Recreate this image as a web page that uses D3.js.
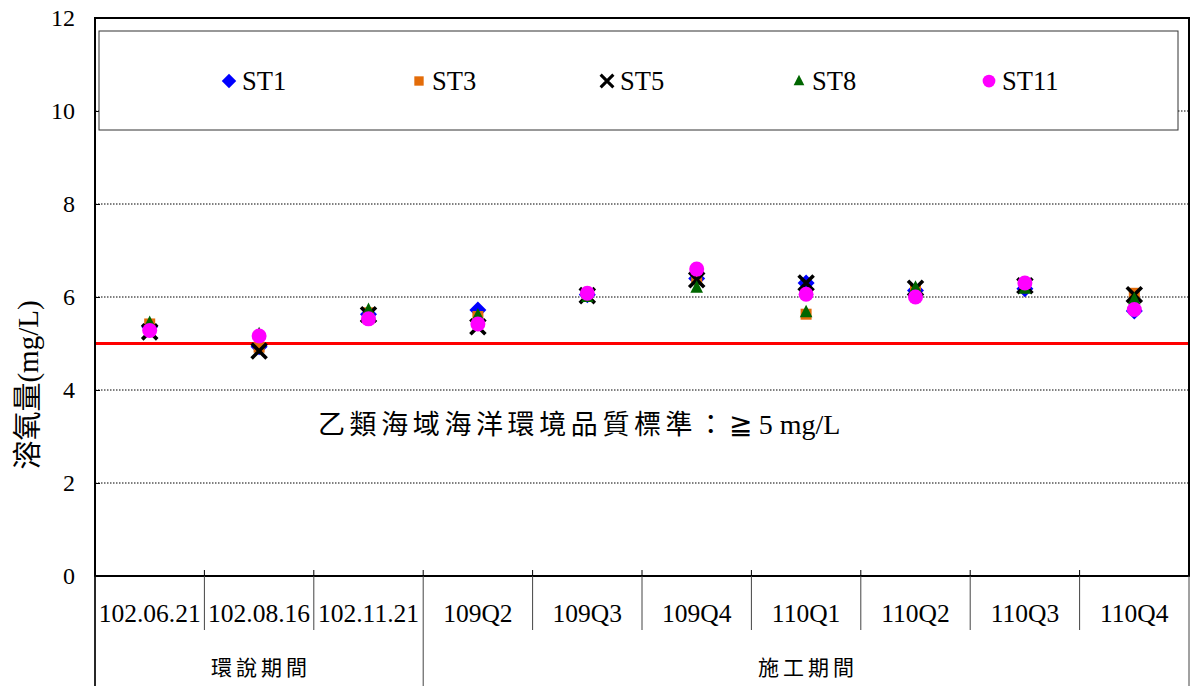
<!DOCTYPE html>
<html><head><meta charset="utf-8">
<script src="https://cdn.jsdelivr.net/npm/d3@7"></script>
<style>body{margin:0;background:#fff}svg{display:block}</style>
</head><body>
<svg id="c" width="1192" height="686"></svg>
<script>
const categories = ["102.06.21","102.08.16","102.11.21","109Q2","109Q3","109Q4","110Q1","110Q2","110Q3","110Q4"];
const groups = [{name:"環說期間", start:0, end:3},{name:"施工期間", start:3, end:10}];
const seriesNames = ["ST1","ST3","ST5","ST8","ST11"];
const st1  = [5.36,4.93,5.63,5.72,6.05,6.40,6.30,6.14,6.18,5.70];
const st3  = [5.42,4.92,5.66,5.58,6.05,6.38,5.63,6.15,6.22,6.08];
const st5  = [5.25,4.84,5.62,5.36,6.03,6.37,6.30,6.19,6.24,6.05];
const st8  = [5.44,5.20,5.72,5.60,6.00,6.20,5.67,6.20,6.18,5.95];
const st11 = [5.28,5.16,5.53,5.42,6.08,6.60,6.06,6.00,6.30,5.73];
const yTicks = [0,2,4,6,8,10,12];
const standard = 5;
const annotation = "乙類海域海洋環境品質標準：";
const annotationTail = "≧ 5 mg/L";
const yTitle = "溶氧量(mg/L)";

const seriesData = [st1,st3,st5,st8,st11];
const colors = ["#0000FF","#E36C09","#000000","#006600","#FF00FF"];
const shapes = ["diamond","square","x","triangle","circle"];

const svg = d3.select("#c");
const L=95, R=1189, T=18, B=576;
const serif = "'Liberation Serif','Times New Roman',serif";
const cjk = "'Liberation Serif','Noto Sans CJK TC',serif";

const x = d3.scaleBand().domain(categories).range([L,R]).padding(0);
const y = d3.scaleLinear().domain([0,12]).range([B,T]);

// gridlines
svg.append("g").selectAll("line").data(yTicks.filter(v=>v>0&&v<12)).join("line")
  .attr("x1",L).attr("x2",R).attr("y1",d=>y(d)).attr("y2",d=>y(d))
  .attr("stroke","#000").attr("stroke-width",1).attr("stroke-dasharray","1.5,1.5");

// y ticks inward
const yAxis = d3.axisRight(y).tickValues(yTicks).tickSize(5).tickFormat("");
const ga = svg.append("g").attr("transform",`translate(${L},0)`).call(yAxis);
ga.select(".domain").remove();
ga.selectAll("line").attr("stroke","#000").attr("stroke-width",1);
svg.append("g").selectAll("text").data(yTicks).join("text")
  .attr("x",75).attr("y",d=>y(d)).attr("dy","0.35em").attr("text-anchor","end")
  .attr("font-family",serif).attr("font-size",24).text(d=>d);

// red standard line
svg.append("line").attr("x1",L).attr("x2",R).attr("y1",y(standard)).attr("y2",y(standard))
  .attr("stroke","#FF0000").attr("stroke-width",3);

// plot border
svg.append("rect").attr("x",L).attr("y",T).attr("width",R-L).attr("height",B-T)
  .attr("fill","none").attr("stroke","#000").attr("stroke-width",2);

// x ticks above axis at boundaries
const bounds = d3.range(categories.length+1).map(i=> i<categories.length ? x(categories[i]) : R);
svg.append("g").selectAll("line").data(bounds.slice(1,-1)).join("line")
  .attr("x1",d=>d).attr("x2",d=>d).attr("y1",B-6).attr("y2",B)
  .attr("stroke","#000").attr("stroke-width",1);
// category separators below
const groupBounds = new Set(groups.flatMap(g=>[g.start,g.end]));
svg.append("g").selectAll("line").data(bounds.map((b,i)=>({b,i}))).join("line")
  .attr("x1",d=>d.b).attr("x2",d=>d.b).attr("y1",B)
  .attr("y2",d=>groupBounds.has(d.i)?686:630)
  .attr("stroke","#444").attr("stroke-width",1);
svg.append("line").attr("x1",L).attr("x2",L).attr("y1",B).attr("y2",686).attr("stroke","#000").attr("stroke-width",1.5);

svg.append("g").selectAll("text").data(categories).join("text")
  .attr("x",d=>x(d)+x.bandwidth()/2).attr("y",613).attr("dy","0.35em")
  .attr("text-anchor","middle").attr("font-family",serif).attr("font-size",25.5).text(d=>d);

svg.append("g").selectAll("text").data(groups).join("text")
  .attr("x",d=>(bounds[d.start]+bounds[d.end])/2 + 2).attr("y",668).attr("dy","0.35em")
  .attr("text-anchor","middle").attr("font-family",cjk).attr("font-size",21)
  .attr("letter-spacing",4).text(d=>d.name);

// markers
function drawMarker(g, shape, color, k){
  if(shape==="diamond"){
    const h=8.5*k;
    g.append("path").attr("d",`M0,${-h}L${h},0L0,${h}L${-h},0Z`).attr("fill",color);
  } else if(shape==="square"){
    const h=5.5*k;
    g.append("rect").attr("x",-h).attr("y",-h).attr("width",2*h).attr("height",2*h).attr("fill",color);
  } else if(shape==="x"){
    const h=7.5*k;
    g.append("path").attr("d",`M${-h},${-h}L${h},${h}M${-h},${h}L${h},${-h}`).attr("stroke",color).attr("stroke-width",3.6*k).attr("fill","none");
  } else if(shape==="triangle"){
    const w=6.3*k;
    g.append("path").attr("d",`M0,${-7.5*k}L${w},${5*k}L${-w},${5*k}Z`).attr("fill",color);
  } else {
    g.append("circle").attr("r",7.5*k).attr("fill",color);
  }
}

seriesData.forEach((arr,si)=>{
  const gs = svg.append("g");
  arr.forEach((v,i)=>{
    const g = gs.append("g").attr("transform",`translate(${x(categories[i])+x.bandwidth()/2},${y(v)})`);
    drawMarker(g, shapes[si], colors[si], 1);
  });
});

// legend
svg.append("rect").attr("x",99).attr("y",31).attr("width",1079).attr("height",99)
  .attr("fill","#fff").attr("stroke","#333").attr("stroke-width",1);
const legX = [229,419,607,799,989];
seriesNames.forEach((n,i)=>{
  const g = svg.append("g").attr("transform",`translate(${legX[i]},81)`);
  drawMarker(g, shapes[i], colors[i], 0.85);
  svg.append("text").attr("x",legX[i]+13).attr("y",81).attr("dy","0.35em")
    .attr("font-family",serif).attr("font-size",26.5).text(n);
});

// annotation
const at = svg.append("text").attr("x",318).attr("y",425).attr("dy","0.35em")
  .attr("font-family",cjk).attr("font-size",27);
at.append("tspan").attr("letter-spacing",4.6).text(annotation);
at.append("tspan").attr("font-family",serif).attr("font-size",28).text(annotationTail);

// y title
svg.append("text").attr("transform","translate(28,385) rotate(-90)").attr("dy","0.35em")
  .attr("text-anchor","middle").attr("font-family",cjk).attr("font-size",29).text(yTitle);
</script>
</body></html>
